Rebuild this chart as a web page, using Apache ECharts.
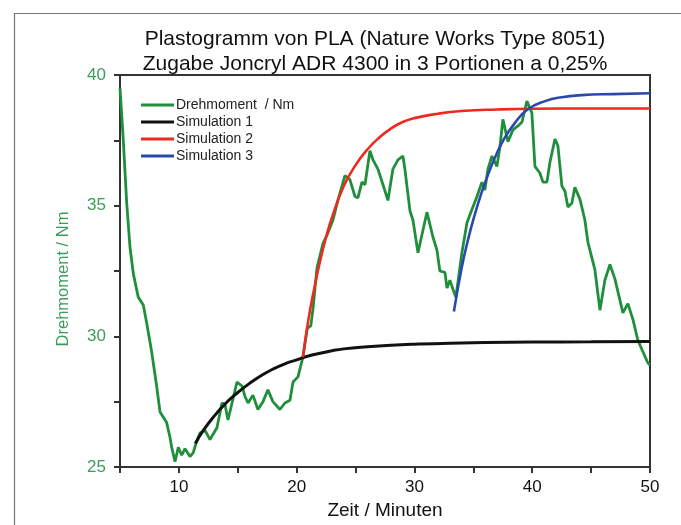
<!DOCTYPE html>
<html>
<head>
<meta charset="utf-8">
<script src="https://cdn.jsdelivr.net/npm/echarts@6/dist/echarts.min.js"></script>
<style>html,body{margin:0;padding:0;background:#fff;}#c{width:681px;height:525px;}</style>
</head>
<body>
<div id="c"></div>
<script>
var titleLines = ['Plastogramm von PLA (Nature Works Type 8051)', 'Zugabe Joncryl ADR 4300 in 3 Portionen a 0,25%'];
var seriesNames = ['Drehmoment  / Nm', 'Simulation 1', 'Simulation 2', 'Simulation 3'];
var xTickLabels = [10, 20, 30, 40, 50];
var yTickLabels = [25, 30, 35, 40];

var greenTime = [5.0, 5.28, 5.57, 5.85, 6.13, 6.55, 6.98, 7.27, 7.69, 8.11, 8.4, 8.68, 8.96, 9.24, 9.39, 9.67, 9.95, 10.24, 10.52, 10.94, 11.22, 11.45, 11.79, 12.22, 12.64, 13.23, 13.66, 13.91, 14.17, 14.51, 14.93, 15.36, 15.61, 15.87, 16.29, 16.71, 17.14, 17.56, 17.98, 18.58, 19.0, 19.43, 19.69, 20.11, 20.53, 20.9, 21.2, 21.4, 21.72, 22.23, 22.65, 23.08, 23.5, 24.1, 24.52, 24.95, 25.2, 25.54, 25.8, 26.22, 26.48, 26.9, 27.33, 27.75, 28.17, 28.6, 29.02, 29.19, 29.62, 29.87, 30.3, 31.06, 31.57, 31.91, 32.16, 32.59, 32.76, 33.01, 33.27, 33.52, 34.03, 34.46, 34.88, 35.31, 35.73, 35.98, 36.24, 36.58, 37.0, 37.26, 37.51, 37.94, 38.36, 38.79, 39.13, 39.55, 39.97, 40.23, 40.65, 40.91, 41.25, 41.5, 41.93, 42.18, 42.52, 42.78, 43.03, 43.37, 43.62, 44.05, 44.47, 44.73, 45.32, 45.75, 46.17, 46.6, 47.02, 47.7, 48.12, 48.55, 48.97, 49.8, 50.0];
var greenTorque = [39.5, 37.5, 35.1, 33.4, 32.4, 31.5, 31.2, 30.5, 29.4, 28.1, 27.1, 26.9, 26.7, 26.15, 25.75, 25.2, 25.75, 25.45, 25.7, 25.4, 25.55, 25.9, 26.3, 26.4, 26.05, 26.5, 27.45, 27.4, 26.8, 27.45, 28.25, 28.1, 27.7, 27.45, 27.75, 27.2, 27.5, 27.95, 27.5, 27.2, 27.45, 27.55, 28.25, 28.45, 29.2, 30.3, 30.4, 31.1, 32.6, 33.55, 33.95, 34.45, 35.2, 36.15, 36.0, 35.35, 35.3, 35.9, 35.8, 37.1, 36.75, 36.4, 35.8, 35.2, 36.4, 36.75, 36.9, 36.4, 34.8, 34.45, 33.2, 34.75, 33.8, 33.3, 32.5, 32.45, 31.85, 32.15, 31.8, 31.5, 33.2, 34.35, 34.85, 35.35, 35.9, 35.6, 36.4, 36.9, 36.5, 37.25, 38.3, 37.45, 37.9, 38.05, 38.2, 39.0, 38.55, 36.5, 36.25, 35.9, 35.9, 36.65, 37.55, 37.3, 35.75, 35.55, 34.95, 35.1, 35.7, 35.25, 34.45, 33.6, 32.55, 31.0, 32.15, 32.75, 32.2, 30.9, 31.25, 30.65, 29.85, 29.0, 28.9];

var sim1Time = [11.4, 12, 13, 14, 15, 16, 17, 18, 19, 20, 21, 22, 23, 24, 26, 28, 30, 33, 36, 40, 45, 50];
var sim1Value = [25.9, 26.35, 26.95, 27.45, 27.85, 28.2, 28.5, 28.75, 28.95, 29.1, 29.25, 29.35, 29.45, 29.52, 29.6, 29.66, 29.7, 29.74, 29.76, 29.78, 29.79, 29.8];

var sim2Time = [20.53, 21, 21.5, 22, 22.5, 23, 24, 25, 26, 27, 28, 29, 30, 32, 34, 37, 40, 45, 50];
var sim2Value = [29.2, 30.65, 31.85, 32.9, 33.8, 34.55, 35.75, 36.55, 37.15, 37.6, 37.95, 38.2, 38.35, 38.52, 38.62, 38.68, 38.71, 38.72, 38.72];

var sim3Time = [33.35, 34.0, 34.55, 35.15, 35.7, 36.3, 36.85, 37.6, 38.5, 39.6, 41.1, 42.5, 44.2, 46.8, 50];
var sim3Value = [30.95, 32.6, 33.7, 34.7, 35.5, 36.25, 36.85, 37.55, 38.15, 38.68, 39.0, 39.15, 39.23, 39.27, 39.3];

function zip(a, b) { return a.map(function (v, i) { return [v, b[i]]; }); }

var colors = ['#1f8f3c', '#111111', '#ee2a1e', '#2c47ae'];
var labelGreen = '#3a9d5a';
var FONT = 'Liberation Sans, Arial, Helvetica, sans-serif';

var chart = echarts.init(document.getElementById('c'), null, { renderer: 'canvas' });
chart.setOption({
  animation: false,
  backgroundColor: '#ffffff',
  graphic: [{
    type: 'rect', left: 12, top: 11,
    shape: { width: 720, height: 560 },
    style: { fill: 'none', stroke: '#777', lineWidth: 1.2 },
    silent: true, z: -10
  }],
  title: {
    text: titleLines.join('\n'),
    left: 370, top: 22, textAlign: 'center',
    textStyle: { fontFamily: FONT, fontSize: 21, fontWeight: 'normal', color: '#111', lineHeight: 25 }
  },
  legend: {
    orient: 'vertical', left: 136, top: 93, itemGap: 3,
    itemWidth: 33, itemHeight: 3, icon: 'rect',
    data: seriesNames,
    textStyle: { fontFamily: FONT, fontSize: 14, color: '#222', padding: [0, 0, 0, -3] }
  },
  grid: { left: 120, right: 31, top: 75, bottom: 58, show: true, borderColor: '#333', borderWidth: 2, containLabel: false },
  xAxis: {
    type: 'value', min: 5, max: 50, interval: 5,
    name: 'Zeit / Minuten', nameLocation: 'middle', nameGap: 31,
    nameTextStyle: { fontFamily: FONT, fontSize: 19, color: '#111' },
    axisLine: { lineStyle: { color: '#333', width: 2 } },
    axisTick: { inside: false, length: 6, lineStyle: { color: '#333', width: 2 } },
    axisLabel: {
      margin: 12, fontFamily: FONT, fontSize: 17, color: '#111',
      formatter: function (v) { return xTickLabels.indexOf(v) >= 0 ? String(v) : ''; }
    },
    splitLine: { show: false }
  },
  yAxis: {
    type: 'value', min: 25, max: 40, interval: 2.5,
    name: 'Drehmoment / Nm', nameLocation: 'middle', nameGap: 48,
    nameTextStyle: { fontFamily: FONT, fontSize: 16.5, color: labelGreen, padding: [0, 0, 0, -16] },
    axisLine: { show: true, lineStyle: { color: '#333', width: 2 } },
    axisTick: { show: true, inside: false, length: 6, lineStyle: { color: '#333', width: 2 } },
    axisLabel: {
      margin: 14, fontFamily: FONT, fontSize: 17, color: labelGreen,
      formatter: function (v) { return yTickLabels.indexOf(v) >= 0 ? String(v) : ''; }
    },
    splitLine: { show: false }
  },
  series: [
    { name: seriesNames[0], type: 'line', data: zip(greenTime, greenTorque), showSymbol: false, symbol: 'none',
      lineStyle: { color: colors[0], width: 2.8 }, itemStyle: { color: colors[0] }, z: 2 },
    { name: seriesNames[1], type: 'line', data: zip(sim1Time, sim1Value), showSymbol: false, symbol: 'none', smooth: true,
      lineStyle: { color: colors[1], width: 3 }, itemStyle: { color: colors[1] }, z: 3 },
    { name: seriesNames[2], type: 'line', data: zip(sim2Time, sim2Value), showSymbol: false, symbol: 'none', smooth: true,
      lineStyle: { color: colors[2], width: 2.6 }, itemStyle: { color: colors[2] }, z: 3 },
    { name: seriesNames[3], type: 'line', data: zip(sim3Time, sim3Value), showSymbol: false, symbol: 'none', smooth: true,
      lineStyle: { color: colors[3], width: 2.6 }, itemStyle: { color: colors[3] }, z: 3 }
  ]
});
</script>
</body>
</html>
